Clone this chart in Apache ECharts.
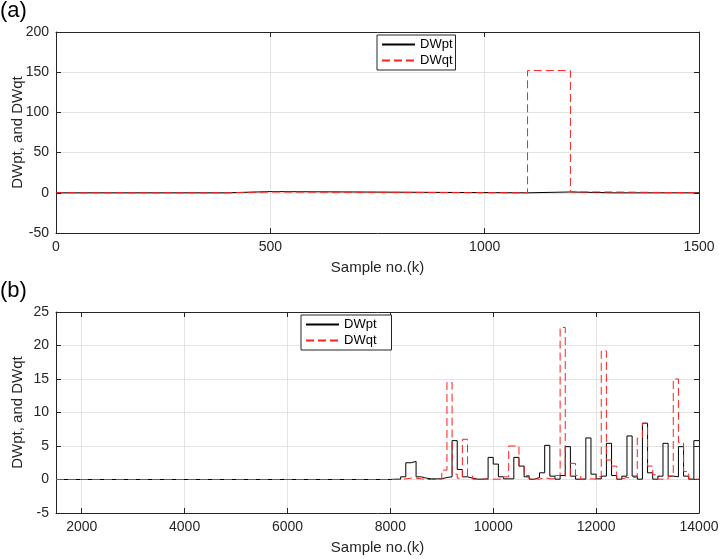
<!DOCTYPE html>
<html>
<head>
<meta charset="utf-8">
<script src="https://cdn.jsdelivr.net/npm/echarts@6/dist/echarts.min.js"></script>
<style>
html,body{margin:0;padding:0;background:#fff;}
#c{width:719px;height:559px;}
</style>
</head>
<body>
<div id="c"></div>
<script>
// ---------- Panel (a) data ----------
const sampleA = [0, 400, 500, 1100, 1200, 1300, 1500];
const dwptA   = [0, 1.5, 0, 1, 0, 0, 0];
const dwqtA   = [0, 1, 0, 152, 1, 0, 0];

// ---------- Panel (b) data (step values held from each sample no.) ----------
const sampleB = [1500,
  8000, 8100, 8200, 8300, 8400, 8500, 8600, 8700, 8800, 8900,
  9000, 9100, 9200, 9300, 9400, 9500, 9600, 9700, 9800, 9900,
  10000, 10100, 10200, 10300, 10400, 10500, 10600, 10700, 10800, 10900,
  11000, 11100, 11200, 11300, 11400, 11500, 11600, 11700, 11800, 11900,
  12000, 12100, 12200, 12300, 12400, 12500, 12600, 12700, 12800, 12900,
  13000, 13100, 13200, 13300, 13400, 13500, 13600, 13700, 13800, 13900,
  14000];
const dwptB = [0,
  0.05, 0.05, 0.4, 2.5, 2.7, 0.4, 0.2, 0.1, 0.1, 0.1,
  0.3, 0.4, 5.8, 1.5, 0.4, 0.2, 0.05, 0.05, 0.1, 3.3,
  2.3, 0.4, 0.1, 0.1, 3.3, 2.0, 0.4, 0.05, 0.3, 1.0,
  5.1, 0.5, 0.05, 0.6, 4.9, 0.5, 0.05, 0.05, 6.2, 0.8,
  0.1, 0.5, 5.4, 0.6, 0.05, 0.5, 6.5, 0.5, 0.05, 8.4,
  1.0, 0.05, 0.5, 5.4, 0.5, 0.4, 4.9, 0.5, 0.05, 5.8,
  5.8];
const dwqtB = [0,
  0, 0, 0.1, 0.2, 0.2, 0.1, 0, 0, 0, 0.1,
  1.4, 14.5, 0.8, 0.2, 6.0, 0.5, 0.05, 0.05, 0.05, 0.05,
  0.05, 0.05, 0.4, 5.0, 5.0, 2.0, 0.6, 0.1, 0.05, 0.3,
  0.1, 0.1, 0.6, 22.7, 0.5, 2.4, 0.6, 0.05, 0.1, 0.05,
  0.4, 19.2, 2.9, 2.0, 0.1, 0.3, 0.2, 0.4, 6.2, 8.4,
  2.0, 0.7, 0.05, 0.05, 0.5, 15.0, 5.5, 1.2, 0.05, 0.05,
  0.05];

const ticksBx = [2000, 4000, 6000, 8000, 10000, 12000, 14000];
const seriesNames = ['DWpt', 'DWqt'];
const panelLabels = ['(a)', '(b)'];
const xTitle = 'Sample no.(k)';
const yTitle = 'DWpt, and DWqt';

const FONT = 'Liberation Sans, Arial, Helvetica, sans-serif';
const AX = '#262626';
const GRIDC = '#e3e3e3';

function zip(xs, ys){ return xs.map((x,i)=>[x, ys[i]]); }
const plain = v => String(v);

function baseX(gridIndex, min, max, interval, custom, top){
  const o = {
    type: 'value', gridIndex, min, max,
    position: top ? 'top' : 'bottom',
    axisLine: {show: true, onZero: false, lineStyle: {color: AX, width: 1}},
    axisTick: {show: true, inside: true, length: 5, lineStyle: {color: AX}},
    axisLabel: {show: !top, color: AX, fontFamily: FONT, fontSize: 14, margin: 7, formatter: plain},
    splitLine: {show: !top, lineStyle: {color: GRIDC, width: 1}},
    name: top ? '' : xTitle, nameLocation: 'middle', nameGap: 27, nameMoveOverlap: false,
    nameTextStyle: {color: AX, fontFamily: FONT, fontSize: 15}
  };
  if (custom) {
    o.axisTick.customValues = custom;
    o.axisLabel.customValues = custom;
    o.splitLine.customValues = custom;
  } else {
    o.interval = interval;
  }
  return o;
}
function baseY(gridIndex, min, max, interval, right){
  return {
    type: 'value', gridIndex, min, max, interval,
    position: right ? 'right' : 'left',
    axisLine: {show: true, onZero: false, lineStyle: {color: AX, width: 1}},
    axisTick: {show: true, inside: true, length: 5, lineStyle: {color: AX}},
    axisLabel: {show: !right, color: AX, fontFamily: FONT, fontSize: 14, margin: 7, formatter: plain},
    splitLine: {show: !right, lineStyle: {color: GRIDC, width: 1}},
    name: right ? '' : yTitle, nameLocation: 'middle', nameGap: 31, nameRotate: 90,
    nameMoveOverlap: false,
    nameTextStyle: {color: AX, fontFamily: FONT, fontSize: 15}
  };
}

const blackStyle = {color: '#000000', width: 1, type: 'solid'};
const redStyle = {color: '#ff2020', width: 1, type: [8, 4]};

function lineSeries(name, x, y, data, style){
  return {
    type: 'line', name, xAxisIndex: x, yAxisIndex: y, data,
    step: 'end', symbol: 'none', showSymbol: false, animation: false,
    lineStyle: style, itemStyle: {color: style.color}, silent: true
  };
}

function legend(left, top, padRight){
  return {
    data: seriesNames, orient: 'vertical', left, top,
    backgroundColor: '#fff', borderColor: AX, borderWidth: 1,
    padding: [3, padRight, 3, 4], itemGap: 3, itemWidth: 33, itemHeight: 15,
    itemStyle: {opacity: 0},
    textStyle: {color: '#000', fontFamily: FONT, fontSize: 13},
    selectedMode: false
  };
}

const chart = echarts.init(document.getElementById('c'), null, {renderer: 'canvas'});
chart.setOption({
  animation: false,
  backgroundColor: '#fff',
  grid: [
    {left: 56, top: 32, width: 643, height: 201, containLabel: false, outerBoundsMode: 'none'},
    {left: 56, top: 312, width: 643, height: 201, containLabel: false, outerBoundsMode: 'none'}
  ],
  xAxis: [
    baseX(0, 0, 1500, 500, null, false),
    baseX(0, 0, 1500, 500, null, true),
    baseX(1, 1500, 14000, null, ticksBx, false),
    baseX(1, 1500, 14000, null, ticksBx, true)
  ],
  yAxis: [
    baseY(0, -50, 200, 50, false),
    baseY(0, -50, 200, 50, true),
    baseY(1, -5, 25, 5, false),
    baseY(1, -5, 25, 5, true)
  ],
  legend: [legend(377, 35, 3), legend(301, 315, 15)],
  graphic: [
    {type: 'text', left: 0, top: 0, style: {text: panelLabels[0], font: '22px ' + FONT, fill: '#000'}},
    {type: 'text', left: 0, top: 280, style: {text: panelLabels[1], font: '22px ' + FONT, fill: '#000'}}
  ],
  series: [
    lineSeries(seriesNames[0], 0, 0, zip(sampleA, dwptA), blackStyle),
    lineSeries(seriesNames[1], 0, 0, zip(sampleA, dwqtA), redStyle),
    lineSeries(seriesNames[0], 2, 2, zip(sampleB, dwptB), blackStyle),
    lineSeries(seriesNames[1], 2, 2, zip(sampleB, dwqtB), redStyle)
  ]
});
</script>
</body>
</html>
